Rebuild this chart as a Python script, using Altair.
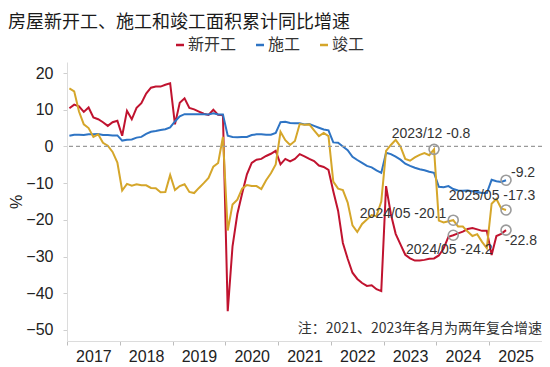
import altair as alt
import pandas as pd

# ---------------- data ----------------
years = [2017, 2018, 2019, 2020, 2021, 2022, 2023, 2024, 2025]
dates = [f"{y}/{m:02d}" for y in years[:-1] for m in range(2, 13)] + [f"2025/{m:02d}" for m in range(2, 6)]

new_start = [
    10.4, 11.4, 10.9, 9.4, 10.6, 7.9, 7.4, 6.6, 5.6, 6.6, 7.0,
    2.9, 9.7, 7.4, 10.5, 11.8, 14.4, 16.0, 16.3, 16.3, 16.8, 17.2,
    6.0, 11.9, 13.1, 10.5, 10.1, 9.5, 8.9, 8.6, 10.0, 8.6, 8.5,
    -44.9, -27.2, -18.4, -12.8, -7.6, -4.5, -3.6, -3.4, -2.6, -2.0, -1.2,
    -4.9, -3.4, -4.1, -3.4, -2.1, -2.7, -3.4, -4.0, -5.2, -5.6, -6.4,
    -12.2, -17.5, -26.3, -30.6, -34.4, -36.1, -37.2, -38.0, -37.8, -38.9, -39.4,
    -10.8, -18.4, -23.8, -26.7, -29.5, -30.5, -31.1, -31.1, -30.9, -30.6, -30.5,
    -29.7, -27.8, -24.6, -24.2, -23.7, -23.2, -22.5, -22.2, -22.6, -23.0, -23.0,
    -29.6, -24.4, -23.8, -22.8,
]
under_construction = [
    2.9, 3.2, 3.2, 3.1, 3.3, 3.3, 3.4, 3.1, 3.1, 3.0, 3.0,
    1.6, 1.8, 1.9, 2.4, 2.6, 3.4, 4.0, 4.2, 4.5, 4.7, 5.2,
    6.8, 8.2, 8.8, 8.8, 8.8, 8.8, 8.8, 8.7, 9.0, 8.7, 8.7,
    2.9, 2.6, 2.5, 2.6, 2.6, 3.1, 3.3, 3.3, 3.2, 3.2, 3.7,
    6.6, 6.7, 6.4, 6.3, 6.3, 6.0, 6.1, 5.6, 5.1, 4.6, 4.4,
    1.1, 1.0, 0.0, -1.0, -2.8, -3.7, -4.5, -5.3, -5.7, -6.5, -7.2,
    -1.7, -2.1, -2.8, -3.6, -4.7, -5.3, -5.8, -6.2, -6.5, -6.9, -7.2,
    -11.0, -11.1, -10.8, -11.6, -12.0, -12.1, -12.0, -12.2, -12.4, -12.7, -12.7,
    -9.1, -9.5, -9.7, -9.2,
]
completed = [
    15.8, 15.0, 9.5, 6.0, 5.0, 2.6, 3.3, 1.0, 0.2, -1.5, -4.4,
    -12.0, -10.2, -10.7, -10.3, -10.6, -10.6, -11.3, -11.4, -12.5, -12.4, -7.8,
    -11.9, -10.8, -10.3, -12.4, -12.7, -11.3, -10.0, -8.6, -5.5, -4.5, 2.6,
    -22.9, -15.8, -14.5, -11.5, -10.5, -10.8, -10.8, -11.6, -9.2, -7.3, -4.9,
    4.0, 1.7, 0.4, 1.5, 6.1, 5.9, 6.0, 4.4, 2.8, 3.7, 2.8,
    -9.6, -11.5, -11.9, -15.3, -21.5, -23.3, -21.1, -19.9, -18.7, -19.0, -15.0,
    -1.2, 0.4, 1.8, 0.0, -3.4, -3.9, -3.0, -2.3, -1.8, -2.4, -0.8,
    -20.2, -20.7, -20.4, -20.1, -21.8, -21.8, -23.2, -24.4, -23.9, -26.0, -27.7,
    -15.6, -14.3, -16.9, -17.3,
]

series_names = ["新开工", "施工", "竣工"]
series_colors = ["#C0132F", "#2E74C4", "#D5A62A"]

# annotations: (date, series, label, align, dx, dy)
ann_dates = ["2023/12", "2025/05", "2025/05", "2025/05", "2024/05", "2024/05"]
ann_series = ["竣工", "施工", "竣工", "新开工", "竣工", "新开工"]
ann_labels = ["2023/12 -0.8", "-9.2", "2025/05 -17.3", "-22.8", "2024/05 -20.1", "2024/05 -24.2"]
ann_align = ["center", "left", "center", "left", "right", "center"]
ann_dx = [-3, 5, -14, -1, -7, -4]
ann_dy = [-15, -7, -14, 11, -6, 15]

title_text = "房屋新开工、施工和竣工面积累计同比增速"
note_text = "注：2021、2023年各月为两年复合增速"

# ---------------- build table ----------------
series_values = {"新开工": new_start, "施工": under_construction, "竣工": completed}
rows = []
for name in series_names:
    for i, (d, v) in enumerate(zip(dates, series_values[name])):
        rows.append({"series": name, "date": d, "x": i + 0.5, "value": v})
df = pd.DataFrame(rows)

ann_rows = []
for d, s, lab in zip(ann_dates, ann_series, ann_labels):
    i = dates.index(d)
    ann_rows.append({"series": s, "date": d, "x": i + 0.5, "value": series_values[s][i], "label": lab})
ann_df = pd.DataFrame(ann_rows)

W, H = 475, 279
CJK = "Noto Sans CJK SC"
LAT = "Liberation Sans"
n_years = len(years)

x_scale = alt.Scale(domain=[0, 11 * n_years], nice=False, zero=False)
y_scale = alt.Scale(domain=[-53, 23], nice=False, zero=False)

x_axis = alt.Axis(
    values=[k * 5.5 for k in range(2 * n_years + 1)],
    labelExpr="datum.value % 11 == 5.5 ? '' + (2017 + floor(datum.value / 11)) : ''",
    tickOpacity={"condition": {"test": "datum.value % 11 == 0", "value": 1}, "value": 0},
    tickSize=4, tickColor="#bdbdbd", domainColor="#dcdcdc",
    labelFont=LAT, labelFontSize=16, labelColor="#222", labelPadding=3,
    labelOverlap=False, labelFlush=False, labelBound=False, grid=False, title=None,
)
y_axis = alt.Axis(
    values=list(range(-50, 21, 10)),
    tickSize=4, tickColor="#cfcfcf", domainColor="#dcdcdc",
    labelFont=LAT, labelFontSize=16, labelColor="#222", labelPadding=10,
    labelOverlap=False, labelFlush=False, labelBound=False,
    grid=False, title="%", titleFont=LAT, titleFontSize=16, titleFontWeight="normal",
    titleColor="#222", titlePadding=1,
)

X = alt.X("x:Q", scale=x_scale, axis=x_axis)
Y = alt.Y("value:Q", scale=y_scale, axis=y_axis)

lines = alt.Chart(df).mark_line(strokeWidth=2).encode(
    x=X,
    y=Y,
    color=alt.Color(
        "series:N",
        scale=alt.Scale(domain=series_names, range=series_colors),
        legend=alt.Legend(
            orient="none", legendX=105, legendY=-25, direction="horizontal",
            title=None, symbolType="stroke", symbolStrokeWidth=2.5, symbolSize=64,
            labelFont=CJK, labelFontSize=16, labelColor="#333", labelOffset=0,
            columnPadding=14, padding=0,
        ),
    ),
    order="x:Q",
)

zero = alt.Chart(pd.DataFrame({"value": [0]})).mark_rule(
    strokeDash=[4, 3], color="#9a9a9a", strokeWidth=1.3
).encode(y=Y)

circles = alt.Chart(ann_df).mark_point(
    shape="circle", size=100, filled=False, color="#9a9a9a", strokeWidth=1.6, opacity=1
).encode(x=X, y=Y)

texts = []
for k in range(len(ann_labels)):
    texts.append(
        alt.Chart(ann_df.iloc[[k]]).mark_text(
            align=ann_align[k], baseline="middle", dx=ann_dx[k], dy=ann_dy[k],
            font=LAT, fontSize=14, color="#333",
        ).encode(x=X, y=Y, text="label:N")
    )

note = alt.Chart(pd.DataFrame({"t": [note_text]})).mark_text(
    align="right", baseline="middle", font=CJK, fontSize=14, color="#333"
).encode(x=alt.value(W), y=alt.value(267), text="t:N")

chart = alt.layer(lines, zero, circles, *texts, note).properties(
    width=W, height=H,
    title=alt.TitleParams(
        title_text, anchor="start", frame="group", font=CJK, fontSize=18,
        fontWeight="normal", color="#1a1a1a", dx=-59, dy=-1,
    ),
    autosize=alt.AutoSizeParams(type="none"),
    padding={"left": 59, "top": 54, "right": 0, "bottom": 26},
).configure_view(stroke=None)

chart.save("out.html", embed_options={"renderer": "svg", "actions": False})
